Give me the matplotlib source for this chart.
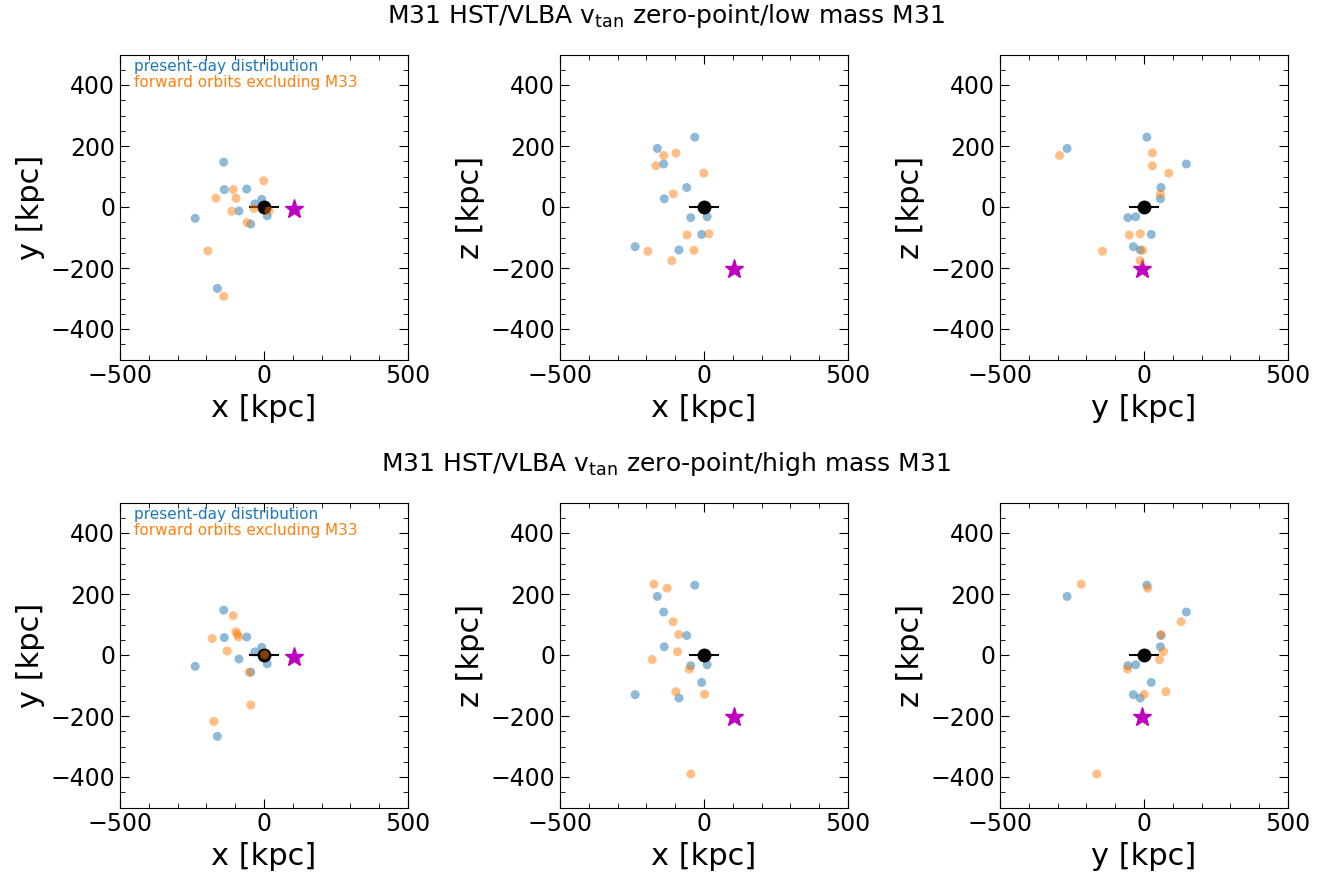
import numpy as np
import matplotlib
matplotlib.use('Agg')
import matplotlib.pyplot as plt

# present-day satellite positions relative to M31 [kpc]
sat_x = np.array([-32, -162, -140, -60, -138, -46, 11, -8, -239, -87])
sat_y = np.array([10, -267, 147, 59, 57, -56, -29, 25, -37, -13])
sat_z = np.array([229, 192, 141, 64, 27, -35, -32, -90, -130, -141])

# forward-integrated positions, low mass M31
low_x = np.array([-97, -140, -167, -1, -107, -59, 17, -35, -195, -112])
low_y = np.array([29, -293, 29, 86, 57, -51, -13, -5, -144, -14])
low_z = np.array([177, 169, 135, 111, 43, -92, -88, -142, -145, -176])

# forward-integrated positions, high mass M31
high_x = np.array([-174, -128, -107, -88, -92, -180, -51, 2, -98, -46])
high_y = np.array([-218, 13, 129, 59, 68, 54, -57, 1, 76, -164])
high_z = np.array([232, 219, 109, 67, 11, -15, -46, -129, -120, -390])

# M31 and M33
m31_pos = np.array([0, 0, 0])
m31_err = 52
m33_pos = np.array([103, -7, -202])

titles = [r'M31 HST/VLBA v$_{\rm tan}$ zero-point/low mass M31',
          r'M31 HST/VLBA v$_{\rm tan}$ zero-point/high mass M31']
runs = [(low_x, low_y, low_z), (high_x, high_y, high_z)]
proj = [(0, 1, 'x [kpc]', 'y [kpc]'),
        (0, 2, 'x [kpc]', 'z [kpc]'),
        (1, 2, 'y [kpc]', 'z [kpc]')]

W, H = 1332, 875
fig = plt.figure(figsize=(W / 100, H / 100), dpi=100)

lefts = [120, 560, 1000]
tops = [54.5, 502.5]
aw, ah = 288, 305

sat = (sat_x, sat_y, sat_z)
for row in range(2):
    fwd = runs[row]
    for col in range(3):
        i, j, xl, yl = proj[col]
        ax = fig.add_axes([lefts[col] / W, 1 - (tops[row] + ah) / H, aw / W, ah / H])
        ax.scatter(sat[i], sat[j], s=42, color='C0', alpha=0.5, edgecolors='none', zorder=2)
        ax.errorbar(m31_pos[i], m31_pos[j], xerr=m31_err, fmt='o', color='k',
                    ms=9, elinewidth=1.5, capsize=0, zorder=3)
        ax.plot(m33_pos[i], m33_pos[j], '*', color='m', ms=14, zorder=4)
        ax.scatter(fwd[i], fwd[j], s=42, color='C1', alpha=0.5, edgecolors='none', zorder=5)

        ax.set_xlim(-500, 500)
        ax.set_ylim(-500, 500)
        ax.set_xticks([-500, 0, 500])
        ax.set_xticks(np.arange(-500, 501, 100), minor=True)
        ax.set_yticks([-400, -200, 0, 200, 400])
        ax.set_yticks(np.arange(-500, 501, 50), minor=True)
        ax.tick_params(which='both', direction='in', top=True, right=True, labelsize=17)
        ax.tick_params(which='major', length=6.5)
        ax.tick_params(which='minor', length=3.5)
        ax.set_xlabel(xl, fontsize=22)
        ax.set_ylabel(yl, fontsize=22)

        if col == 0:
            ax.text(0.05, 0.96, 'present-day distribution', color='C0', fontsize=11,
                    transform=ax.transAxes, va='center')
            ax.text(0.05, 0.907, 'forward orbits excluding M33', color='C1', fontsize=11,
                    transform=ax.transAxes, va='center')

    fig.text(0.5, 1 - (16 + row * 448) / H, titles[row], ha='center', va='center', fontsize=18)

fig.savefig('out.png', dpi=100)
